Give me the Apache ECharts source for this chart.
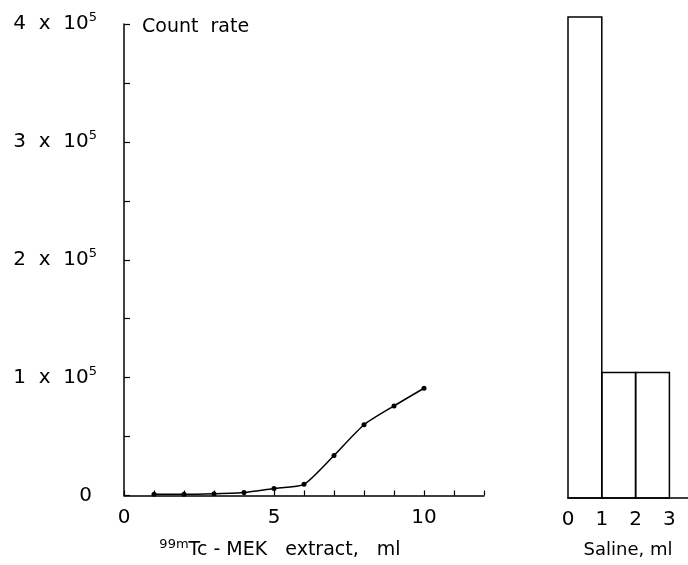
<!DOCTYPE html>
<html>
<head>
<meta charset="utf-8">
<script src="https://cdn.jsdelivr.net/npm/echarts@6/dist/echarts.min.js"></script>
<style>
html,body{margin:0;padding:0;background:#fff;}
#c{width:688px;height:565px;}
</style>
</head>
<body>
<div id="c"></div>
<script>
// MEK extract volumes (ml) and count rates
var extractMl = [1, 2, 3, 4, 5, 6, 7, 8, 9, 10];
var extractCounts = [1000, 1000, 1500, 2500, 6000, 9500, 34000, 60000, 76000, 91000];
// Saline histogram bins (ml) and count rates
var salineStart = [0, 1, 2];
var salineEnd = [1, 2, 3];
var salineCounts = [406000, 106000, 106000];
var yTickValues = [0, 100000, 200000, 300000, 400000];
var xTickLabels = [0, 5, 10];
var salineTickLabels = [0, 1, 2, 3];

var FONT = 'DejaVu Sans';
var chart = echarts.init(document.getElementById('c'), null, {renderer: 'canvas'});

function yLabel(v) {
  if (yTickValues.indexOf(v) < 0) return '';
  if (v === 0) return '{z|0}';
  return '{a|' + (v / 100000) + '  x  10}{s|5}';
}

var lineData = extractMl.map(function (x, i) { return [x, extractCounts[i]]; });
var histData = salineStart.map(function (s, i) { return [s, salineEnd[i], salineCounts[i]]; });

var option = {
  backgroundColor: '#fff',
  animation: false,
  textStyle: {fontFamily: FONT, color: '#000'},
  grid: [
    {left: 124, top: 24, width: 360, bottom: 67},
    {left: 568, top: 24, right: 0, bottom: 67}
  ],
  xAxis: [
    {
      gridIndex: 0, type: 'value', min: 0, max: 12, interval: 1,
      axisLine: {lineStyle: {color: '#000', width: 1.5}},
      axisTick: {inside: true, length: 5, lineStyle: {color: '#000', width: 1.2}},
      splitLine: {show: false},
      axisLabel: {
        margin: 12, fontSize: 20, color: '#000', fontFamily: FONT,
        formatter: function (v) { return xTickLabels.indexOf(v) >= 0 ? String(v) : ''; }
      },
      name: '{s|99m}{a|Tc - MEK   extract,   ml}',
      nameLocation: 'middle', nameGap: 43,
      nameTextStyle: {
        padding: [0, 48, 0, 0],
        rich: {
          s: {fontSize: 13, fontFamily: FONT, color: '#000', verticalAlign: 'top', lineHeight: 24},
          a: {fontSize: 19, fontFamily: FONT, color: '#000', lineHeight: 24}
        }
      }
    },
    {
      gridIndex: 1, type: 'value', min: 0, max: 3.55, interval: 1,
      axisLine: {lineStyle: {color: '#000', width: 1.5}},
      axisTick: {show: false},
      splitLine: {show: false},
      axisLabel: {
        margin: 12, fontSize: 20, color: '#000', fontFamily: FONT, showMaxLabel: false,
        formatter: function (v) { return salineTickLabels.indexOf(v) >= 0 ? String(v) : ''; }
      },
      name: 'Saline, ml', nameLocation: 'middle', nameGap: 43,
      nameTextStyle: {fontSize: 18, fontFamily: FONT, color: '#000'}
    }
  ],
  yAxis: [
    {
      gridIndex: 0, type: 'value', min: 0, max: 400000, interval: 50000,
      axisLine: {show: true, lineStyle: {color: '#000', width: 1.5}},
      axisTick: {inside: true, length: 6, lineStyle: {color: '#000', width: 1.2}},
      splitLine: {show: false},
      axisLabel: {
        margin: 27, color: '#000', fontFamily: FONT,
        formatter: yLabel,
        rich: {
          a: {fontSize: 20, fontFamily: FONT, color: '#000', lineHeight: 26},
          s: {fontSize: 13, fontFamily: FONT, color: '#000', verticalAlign: 'top', lineHeight: 26},
          z: {fontSize: 20, fontFamily: FONT, color: '#000', padding: [0, 5, 0, 0]}
        }
      },
      name: 'Count  rate', nameLocation: 'end', nameGap: -3,
      nameTextStyle: {fontSize: 19, fontFamily: FONT, color: '#000', align: 'left', verticalAlign: 'middle', padding: [0, 0, 0, 18]}
    },
    {
      gridIndex: 1, type: 'value', min: 0, max: 400000,
      show: false
    }
  ],
  series: [
    {
      type: 'line', xAxisIndex: 0, yAxisIndex: 0,
      data: lineData, smooth: 0.2,
      symbol: 'circle', symbolSize: 5,
      lineStyle: {color: '#000', width: 1.5},
      itemStyle: {color: '#000'}
    },
    {
      type: 'custom', xAxisIndex: 1, yAxisIndex: 1,
      data: histData,
      encode: {x: [0, 1], y: 2},
      renderItem: function (params, api) {
        var p0 = api.coord([api.value(0), 0]);
        var p1 = api.coord([api.value(1), api.value(2)]);
        return {
          type: 'rect',
          shape: {x: p0[0], y: p1[1], width: p1[0] - p0[0], height: p0[1] - p1[1]},
          style: {fill: 'none', stroke: '#000', lineWidth: 1.5}
        };
      }
    }
  ]
};
chart.setOption(option);
</script>
</body>
</html>
